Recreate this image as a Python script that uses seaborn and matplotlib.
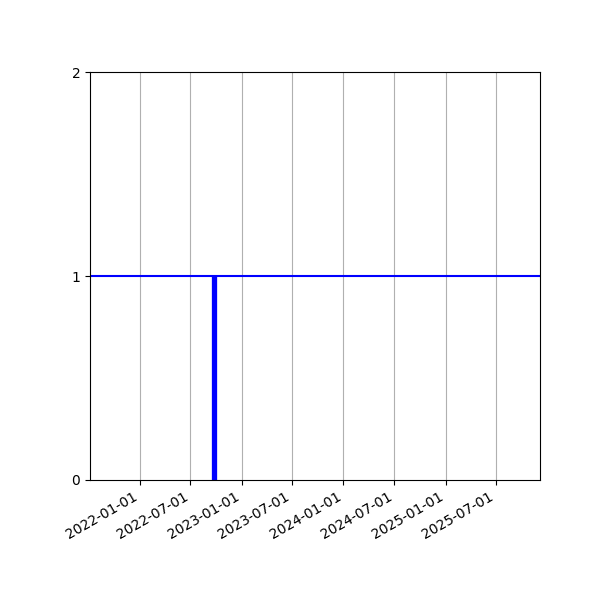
import numpy as np
import pandas as pd
import seaborn as sns
import matplotlib.pyplot as plt
import matplotlib.dates as mdates

# data
spike_dates = pd.to_datetime(["2022-09-24"])
spike_values = [1]
level = 1
x_start = pd.Timestamp("2021-07-07")
x_end = pd.Timestamp("2025-12-05")
tick_dates = pd.date_range("2022-01-01", "2025-07-01", freq="6MS")
y_ticks = [0, 1, 2]

sns.set_style("ticks")
plt.rcParams["font.family"] = ["DejaVu Sans"]

fig, ax = plt.subplots(figsize=(6, 6), dpi=100)
fig.subplots_adjust(left=0.15, right=0.9, top=0.88, bottom=0.2)

ax.vlines(spike_dates, 0, spike_values, color="blue", linewidth=3.8)
ax.axhline(level, color="blue", linewidth=1.5)

ax.set_xlim(x_start, x_end)
ax.set_ylim(0, 2)
ax.set_yticks(y_ticks)
ax.set_xticks(tick_dates)
ax.xaxis.set_major_formatter(mdates.DateFormatter("%Y-%m-%d"))
ax.grid(axis="x", color="#b0b0b0", linewidth=0.8)
ax.grid(axis="y", visible=False)
for s in ax.spines.values():
    s.set_visible(True)
    s.set_color("black")
    s.set_linewidth(0.8)
ax.tick_params(colors="black", labelsize=10, length=3.5, width=0.8)
plt.setp(ax.get_xticklabels(), rotation=30, ha="right")

fig.savefig("out.png", dpi=100)
